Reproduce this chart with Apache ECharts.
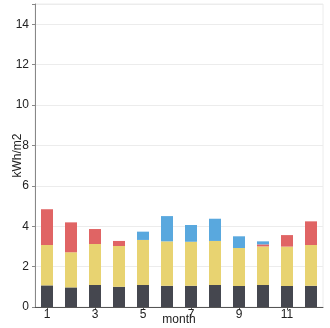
<!DOCTYPE html>
<html>
<head>
<meta charset="utf-8">
<script src="https://cdn.jsdelivr.net/npm/echarts@6/dist/echarts.min.js"></script>
<style>
  html, body { margin: 0; padding: 0; background: #fff; }
  #chart { width: 330px; height: 328px; }
</style>
</head>
<body>
<div id="chart"></div>
<script>
// Monthly energy per square metre, stacked by component (kWh/m2)
const months = ['1', '2', '3', '4', '5', '6', '7', '8', '9', '10', '11', '12'];
const baseLoad   = [1.07, 0.97, 1.09, 1.00, 1.09, 1.05, 1.05, 1.09, 1.04, 1.09, 1.04, 1.05];
const mainLoad   = [2.00, 1.74, 2.03, 2.02, 2.23, 2.20, 2.18, 2.18, 1.88, 1.91, 1.95, 2.02];
const heating    = [1.77, 1.48, 0.74, 0.25, 0.00, 0.00, 0.00, 0.00, 0.00, 0.10, 0.57, 1.17];
const cooling    = [0.00, 0.00, 0.00, 0.00, 0.41, 1.25, 0.83, 1.10, 0.58, 0.15, 0.00, 0.00];
const yTicks = { min: 0, max: 15, interval: 2 };

const font = 'Liberation Sans, Arial, sans-serif';
const mk = (data, color) => ({
  type: 'bar', stack: 'total', data: data, barWidth: '50%',
  itemStyle: { color: color }, silent: true
});

const chart = echarts.init(document.getElementById('chart'), null, { renderer: 'canvas' });
chart.setOption({
  animation: false,
  grid: { left: 35, right: 7, top: 4, bottom: 21, show: true, borderColor: '#ececec', borderWidth: 1,
    containLabel: false, outerBoundsMode: 'none' },
  xAxis: {
    type: 'category', data: months,
    name: 'month', nameLocation: 'middle', nameGap: 7, nameMoveOverlap: false,
    nameTextStyle: { fontFamily: font, fontSize: 12, color: '#222', verticalAlign: 'top' },
    axisLine: { lineStyle: { color: '#555' } },
    axisTick: { show: true, alignWithLabel: true, interval: 1, length: 3, lineStyle: { color: '#555' } },
    axisLabel: { interval: 1, margin: 2, fontFamily: font, fontSize: 12, color: '#222' }
  },
  yAxis: {
    type: 'value', min: yTicks.min, max: yTicks.max, interval: yTicks.interval,
    name: 'kWh/m2', nameLocation: 'middle', nameGap: 11, nameMoveOverlap: false,
    nameTextStyle: { fontFamily: font, fontSize: 12, color: '#222', verticalAlign: 'bottom' },
    axisLine: { show: true, lineStyle: { color: '#888' } },
    axisTick: { show: true, length: 3, lineStyle: { color: '#888' } },
    axisLabel: { margin: 6, fontFamily: font, fontSize: 12, color: '#222',
      formatter: v => (v % 2 === 0 ? v : '') },
    splitLine: { lineStyle: { color: '#ececec' } }
  },
  series: [
    mk(baseLoad, '#45474f'),
    mk(mainLoad, '#e8d371'),
    mk(heating, '#e06464'),
    mk(cooling, '#59a8de')
  ]
});
</script>
</body>
</html>
